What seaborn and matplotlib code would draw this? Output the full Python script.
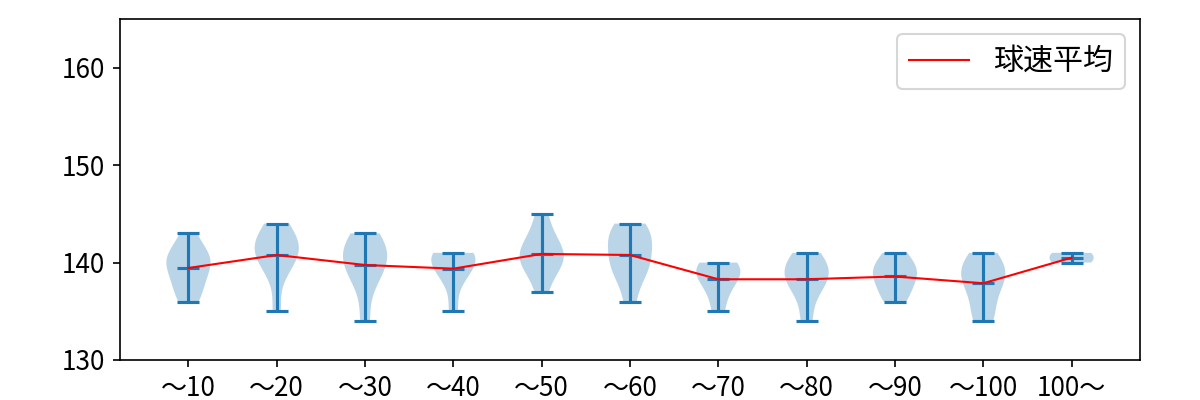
import matplotlib
matplotlib.use("Agg")
import matplotlib.pyplot as plt
import seaborn as sns
import numpy as np
import pandas as pd

# Pitch count bins and pitch speeds (km/h) in each bin
labels = ["～10", "～20", "～30", "～40", "～50", "～60", "～70", "～80", "～90", "～100", "100～"]
speeds_10 = [136, 137, 138, 139, 140, 140, 141, 141, 143]
speeds_20 = [135, 139, 140, 141, 141, 142, 142, 143, 144]
speeds_30 = [134, 138, 139, 140, 141, 141, 142, 143]
speeds_40 = [135, 138, 139, 140, 140, 141, 141, 141]
speeds_50 = [137, 139, 140, 140, 141, 141, 142, 143, 145]
speeds_60 = [136, 139, 139, 140, 141, 142, 143, 143, 144]
speeds_70 = [135, 137, 138, 139, 139, 140, 140]
speeds_80 = [134, 137, 138, 139, 139, 140, 141]
speeds_90 = [136, 137, 138, 139, 139, 140, 141]
speeds_100 = [134, 135, 137, 138, 139, 139, 140, 141]
speeds_over = [140, 141]

groups = [speeds_10, speeds_20, speeds_30, speeds_40, speeds_50, speeds_60,
          speeds_70, speeds_80, speeds_90, speeds_100, speeds_over]

plt.rcParams['font.family'] = ['Noto Sans CJK JP', 'DejaVu Sans']

fig, ax = plt.subplots(figsize=(8, 8 / 3), dpi=150)
positions = list(range(1, len(groups) + 1))
ax.violinplot(groups, positions=positions, showmeans=True)

# Mean line
means = pd.DataFrame({"pos": positions, "mean": [np.mean(g) for g in groups]})
sns.lineplot(data=means, x="pos", y="mean", color="red", linewidth=1, label="球速平均", ax=ax)

ax.set_xticks(positions)
ax.set_xticklabels(labels)
ax.set_ylim(130, 165)
ax.set_yticks([130, 140, 150, 160])
ax.set_xlabel("")
ax.set_ylabel("")
ax.tick_params(labelsize=12.5)
ax.legend(loc="upper right", fontsize=14.4)

fig.subplots_adjust(left=0.1, right=0.95, top=0.9525, bottom=0.1)
fig.savefig("out.png")
